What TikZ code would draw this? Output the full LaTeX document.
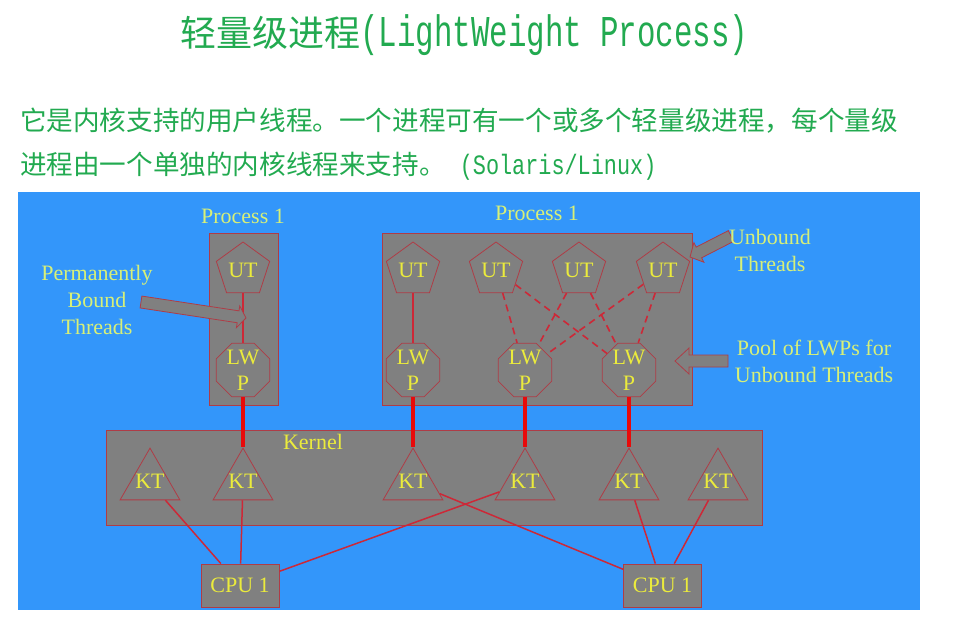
\documentclass[tikz,border=0pt]{standalone}
\usepackage{fontspec}
\setmainfont{Liberation Serif}
\newfontfamily\cjk{Noto Sans CJK SC}
\newfontfamily\monoA[FakeStretch=0.7]{Liberation Mono}
\newfontfamily\monoB[FakeStretch=0.78]{Liberation Mono}
\usetikzlibrary{shapes.geometric,calc}
\definecolor{ttlgreen}{RGB}{34,170,80}
\definecolor{bgblue}{RGB}{51,150,250}
\definecolor{boxgray}{RGB}{128,128,128}
\definecolor{edgered}{RGB}{175,60,70}
\definecolor{thread}{RGB}{205,40,55}
\definecolor{bond}{RGB}{232,10,10}
\definecolor{ytext}{RGB}{235,235,60}
\definecolor{ltext}{RGB}{215,240,120}
\newcommand{\callarrow}[5]{%
  \coordinate (cabase) at ($(#2)!#5!(#1)$);
  \draw[callsty] ($(#1)!#3!90:(#2)$) -- ($(cabase)!#3!90:(#2)$) -- ($(cabase)!#4!90:(#2)$) -- (#2)
    -- ($(cabase)!#4!-90:(#2)$) -- ($(cabase)!#3!-90:(#2)$) -- ($(#1)!#3!-90:(#2)$) -- cycle;}
\begin{document}
\begin{tikzpicture}[x=1pt,y=-1pt,
  boxsty/.style={rectangle, draw=edgered, fill=boxgray, line width=0.8pt, inner sep=0pt},
  cpusty/.style={boxsty, minimum width=78pt, minimum height=43pt, text=ytext, font=\fontsize{22}{24}\selectfont},
  utsh/.style={regular polygon, regular polygon sides=5, minimum size=56pt, inner sep=0pt, draw=edgered, line width=0.8pt, text=ytext, font=\fontsize{22}{24}\selectfont},
  lwpsh/.style={regular polygon, regular polygon sides=8, minimum size=58pt, inner sep=0pt, draw=edgered, line width=0.8pt},
  lwptxt/.style={align=center, text=ytext, font=\fontsize{22}{26}\selectfont, inner sep=0pt},
  ktsh/.style={regular polygon, regular polygon sides=3, minimum size=69pt, inner sep=0pt, draw=edgered, line width=0.8pt},
  kttxt/.style={text=ytext, font=\fontsize{22}{24}\selectfont, inner sep=0pt},
  plabel/.style={text=ltext, font=\fontsize{22}{24}\selectfont, inner sep=0pt},
  calltxt/.style={text=ltext, align=center, font=\fontsize{22}{27}\selectfont, inner sep=0pt},
  callsty/.style={draw=edgered, fill=boxgray, line width=0.8pt, line join=miter},
  thrsty/.style={draw=thread, line width=1.6pt},
  dsh/.style={thrsty, dash pattern=on 7pt off 5pt},
  bondsty/.style={draw=bond, line width=4pt},
  cpuline/.style={draw=thread, line width=1.5pt}]
\useasboundingbox (0,0) rectangle (962,625);
\fill[white] (0,0) rectangle (962,625);
% title and text
\node[anchor=west, inner sep=0pt, text=ttlgreen] (title) at (180,35)
  {\fontsize{36}{40}\selectfont\cjk 轻量级进程\fontsize{44}{44}\monoA(LightWeight Process)};
\node[anchor=west, inner sep=0pt, text=ttlgreen] (line1) at (20,121)
  {\fontsize{26.6}{30}\selectfont\cjk 它是内核支持的用户线程。一个进程可有一个或多个轻量级进程，每个量级};
\node[anchor=west, inner sep=0pt, text=ttlgreen] (line2) at (20,166)
  {\fontsize{26.6}{30}\selectfont\cjk 进程由一个单独的内核线程来支持。\hspace{14pt}\fontsize{28}{30}\monoB(Solaris/Linux)};
% blue panel
\fill[bgblue] (18,192) rectangle (920,610);
% boxes
\node[boxsty, anchor=north west, minimum width=69pt, minimum height=172pt] (p1) at (209,233) {};
\node[boxsty, anchor=north west, minimum width=310pt, minimum height=172pt] (p2) at (382,233) {};
\node[boxsty, anchor=north west, minimum width=656pt, minimum height=95pt] (kern) at (106,430) {};
\node[plabel] (p1l) at (243,216) {Process 1};
\node[plabel] (p2l) at (537,213) {Process 1};
\node[text=ytext, font=\fontsize{22}{24}\selectfont, inner sep=0pt] (kl) at (313,442) {Kernel};
% user threads
\node[utsh] (u1) at (243,270) {UT};
\node[utsh] (u2) at (413,270) {UT};
\node[utsh] (u3) at (496,270) {UT};
\node[utsh] (u4) at (579,270) {UT};
\node[utsh] (u5) at (663,270) {UT};
% LWPs
\node[lwpsh] (l1) at (243,370) {};
\node[lwpsh] (l2) at (413,370) {};
\node[lwpsh] (l3) at (525,370) {};
\node[lwpsh] (l4) at (629,370) {};
\foreach \n in {l1,l2,l3,l4} {\node[lwptxt] at (\n) {LW\\P};}
% kernel threads
\node[ktsh] (k1) at (150,482.6) {};
\node[ktsh] (k2) at (243,482.6) {};
\node[ktsh] (k3) at (413,482.6) {};
\node[ktsh] (k4) at (525,482.6) {};
\node[ktsh] (k5) at (629,482.6) {};
\node[ktsh] (k6) at (718,482.6) {};
\foreach \n in {k1,k2,k3,k4,k5,k6} {\node[kttxt] at ([yshift=1.5pt]\n.center) {KT};}
% CPUs
\node[cpusty] (c1) at (240,585.5) {CPU 1};
\node[cpusty] (c2) at (662.5,585.5) {CPU 1};
% UT - LWP
\draw[thrsty] (u1) -- (l1);
\draw[thrsty] (u2) -- (l2);
\draw[dsh] (u3) -- (l3);
\draw[dsh] (u3) -- (l4);
\draw[dsh] (u4) -- (l3);
\draw[dsh] (u4) -- (l4);
\draw[dsh] (u5) -- (l3);
\draw[dsh] (u5) -- (l4);
% LWP - KT
\draw[bondsty] (l1) -- (k2);
\draw[bondsty] (l2) -- (k3);
\draw[bondsty] (l3) -- (k4);
\draw[bondsty] (l4) -- (k5);
% KT - CPU
\draw[cpuline] (k1) -- (c1);
\draw[cpuline] (k2) -- (c1);
\draw[cpuline] (k4) -- (c1);
\draw[cpuline] (k3) -- (c2);
\draw[cpuline] (k5) -- (c2);
\draw[cpuline] (k6) -- (c2);
% callout arrows
\coordinate (a1t) at (141,302);
\coordinate (a1h) at (246,318);
\coordinate (a2t) at (731,236);
\coordinate (a2h) at (690,257);
\coordinate (a3t) at (728,361);
\coordinate (a3h) at (675,361);
\callarrow{a1t}{a1h}{6pt}{11pt}{8pt}
\callarrow{a2t}{a2h}{6pt}{11pt}{10pt}
\callarrow{a3t}{a3h}{6pt}{13pt}{14pt}
% callout texts
\node[calltxt] (tpb) at (97,300) {Permanently\\Bound\\Threads};
\node[calltxt] (tub) at (770,250) {Unbound\\Threads};
\node[calltxt] (tpl) at (814,361) {Pool of LWPs for\\Unbound Threads};
\end{tikzpicture}
\end{document}
